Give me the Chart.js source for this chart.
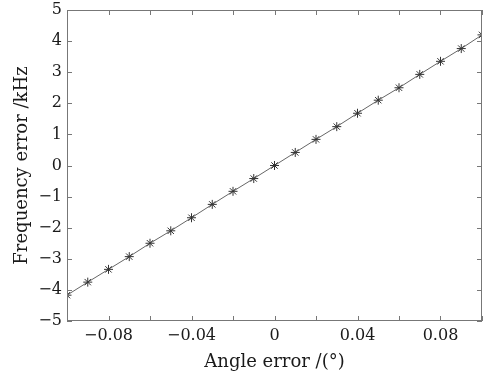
<!DOCTYPE html>
<html>
<head>
<meta charset="utf-8">
<script src="https://cdn.jsdelivr.net/npm/chart.js@4"></script>
<style>
  html, body { margin: 0; padding: 0; background: #fff; }
  #wrap { width: 497px; height: 378px; }
</style>
</head>
<body>
<div id="wrap"><canvas id="errChart"></canvas></div>
<script>
// data
const angleErrors = [-0.1, -0.09, -0.08, -0.07, -0.06, -0.05, -0.04, -0.03, -0.02, -0.01, 0,
                     0.01, 0.02, 0.03, 0.04, 0.05, 0.06, 0.07, 0.08, 0.09, 0.1];
const freqErrors = [-4.17, -3.75, -3.34, -2.93, -2.50, -2.10, -1.68, -1.25, -0.83, -0.42, 0,
                    0.42, 0.84, 1.25, 1.68, 2.10, 2.50, 2.93, 3.35, 3.76, 4.20];
const xLabelTicks = [-0.08, -0.04, 0, 0.04, 0.08];
const yTicks = [-5, -4, -3, -2, -1, 0, 1, 2, 3, 4, 5];

const serif = 'DejaVu Serif';
const fmt = v => (v < 0 ? '\u2212' : '') + Math.abs(v);

// box round the plot and inward ticks on all four sides
const boxTicks = {
    id: 'boxTicks',
    afterDraw(chart) {
        const { ctx, chartArea: a, scales } = chart;
        const len = 5;
        ctx.save();
        ctx.strokeStyle = '#777';
        ctx.lineWidth = 1;
        ctx.strokeRect(a.left + 0.5, a.top + 0.5, a.right - a.left - 1, a.bottom - a.top - 1);
        ctx.beginPath();
        scales.x.ticks.forEach(t => {
            const px = Math.round(scales.x.getPixelForValue(t.value)) + 0.5;
            ctx.moveTo(px, a.bottom); ctx.lineTo(px, a.bottom - len);
            ctx.moveTo(px, a.top); ctx.lineTo(px, a.top + len);
        });
        scales.y.ticks.forEach(t => {
            const py = Math.round(scales.y.getPixelForValue(t.value)) + 0.5;
            ctx.moveTo(a.left, py); ctx.lineTo(a.left + len, py);
            ctx.moveTo(a.right, py); ctx.lineTo(a.right - len, py);
        });
        ctx.stroke();
        ctx.restore();
    }
};

const ctx = document.getElementById('errChart').getContext('2d');
new Chart(ctx, {
    type: 'line',
    data: {
        datasets: [{
            data: angleErrors.map((x, i) => ({ x: x, y: freqErrors[i] })),
            borderColor: '#666',
            borderWidth: 1,
            pointStyle: 'star',
            pointRadius: 4.5,
            pointBorderColor: '#333',
            pointBorderWidth: 1,
            tension: 0
        }]
    },
    options: {
        responsive: true,
        maintainAspectRatio: false,
        animation: false,
        layout: { padding: { top: 10, right: 15, left: 0, bottom: 0 } },
        plugins: { legend: { display: false }, tooltip: { enabled: false } },
        scales: {
            x: {
                type: 'linear',
                min: -0.1,
                max: 0.1,
                grid: { display: false, drawTicks: false },
                border: { display: false },
                ticks: {
                    stepSize: 0.02,
                    padding: 5,
                    color: '#1a1a1a',
                    maxRotation: 0,
                    autoSkip: false,
                    font: { family: serif, size: 16 },
                    callback: v => {
                        const r = Math.round(v * 100) / 100;
                        return xLabelTicks.includes(r) ? fmt(r) : '';
                    }
                },
                title: {
                    display: true,
                    text: 'Angle error /(°)',
                    color: '#1a1a1a',
                    font: { family: serif, size: 18 },
                    padding: { top: 0, bottom: 5 }
                },
                afterFit: s => { s.height = 57; s.paddingLeft = 0; s.paddingRight = 0; }
            },
            y: {
                min: -5,
                max: 5,
                grid: { display: false, drawTicks: false },
                border: { display: false },
                afterBuildTicks: s => { s.ticks = yTicks.map(v => ({ value: v })); },
                ticks: {
                    padding: 5,
                    color: '#1a1a1a',
                    font: { family: serif, size: 16 },
                    callback: v => fmt(v)
                },
                title: {
                    display: true,
                    text: 'Frequency error /kHz',
                    color: '#1a1a1a',
                    font: { family: serif, size: 18 },
                    padding: { top: 12, bottom: 0 }
                },
                afterFit: s => { s.width = 67; s.paddingTop = 0; s.paddingBottom = 0; }
            }
        }
    },
    plugins: [boxTicks]
});
</script>
</body>
</html>
